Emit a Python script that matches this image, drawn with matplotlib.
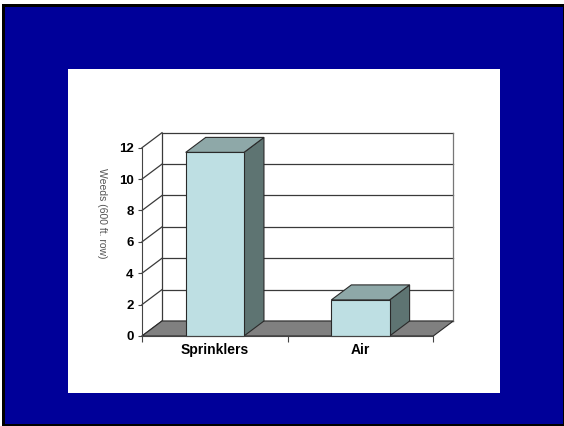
import matplotlib
matplotlib.use("Agg")
import matplotlib.pyplot as plt
from matplotlib.patches import Rectangle, Polygon

# ---- data ----
categories = ["Sprinklers", "Air"]
values = [11.7, 2.3]
y_ticks = [0, 2, 4, 6, 8, 10, 12]
y_label = "Weeds (600 ft. row)"

# ---- styles ----
NAVY = "#000099"
FRONT = "#BEDFE3"
TOP = "#8EA8A8"
SIDE = "#5E7472"
FLOOR = "#808080"
GRID = "#3a3a3a"
EDGE = "#2a2a2a"

W, H, DPI = 564, 426, 100
fig = plt.figure(figsize=(W / DPI, H / DPI), dpi=DPI, facecolor="white")

def fx(px):
    return px / W

def fy(py):
    return 1 - py / H

# frame: black border, navy slide, white panel
fig.patches.append(Rectangle((fx(2), 0), fx(562), fy(4), transform=fig.transFigure,
                             facecolor="black", edgecolor="none", zorder=-30))
fig.patches.append(Rectangle((fx(5), fy(424)), fx(558), fy(7) - fy(424),
                             transform=fig.transFigure, facecolor=NAVY,
                             edgecolor="none", zorder=-20))
fig.patches.append(Rectangle((fx(68), fy(393)), fx(432), fy(69) - fy(393),
                             transform=fig.transFigure, facecolor="white",
                             edgecolor="none", zorder=-10))

# front plane axes
left_px, right_px, bot_px, top_px = 142, 433.3, 336, 147.7
ax = fig.add_axes([fx(left_px), fy(bot_px), fx(right_px - left_px), fy(top_px) - fy(bot_px)])
ax.set_facecolor("none")
n = len(categories)
ax.set_xlim(0, n)
ax.set_ylim(0, y_ticks[-1])

# depth offset (pixels) converted to data units
depth_dx_px, depth_dy_px = 20, 15
dx = depth_dx_px / ((right_px - left_px) / n)
dy = depth_dy_px / ((bot_px - top_px) / y_ticks[-1])

ymax = y_ticks[-1]
# back wall gridlines and edges
for t in y_ticks:
    ax.plot([dx, n + dx], [t + dy, t + dy], color=GRID, lw=0.9, clip_on=False, zorder=1)
    ax.plot([0, dx], [t, t + dy], color=GRID, lw=0.9, clip_on=False, zorder=1)
ax.plot([dx, dx], [dy, ymax + dy], color=GRID, lw=0.9, clip_on=False, zorder=1)
ax.plot([n + dx, n + dx], [dy, ymax + dy], color="#777777", lw=0.9, clip_on=False, zorder=1)

# floor
floor = Polygon([[0, 0], [n, 0], [n + dx, dy], [dx, dy]], closed=True,
                facecolor=FLOOR, edgecolor=EDGE, lw=0.8, clip_on=False, zorder=2)
ax.add_patch(floor)

# bars
bw = 0.40
for i, v in enumerate(values):
    x0 = i + 0.5 - bw / 2
    x1 = i + 0.5 + bw / 2
    side = Polygon([[x1, 0], [x1 + dx, dy], [x1 + dx, v + dy], [x1, v]], closed=True,
                   facecolor=SIDE, edgecolor=EDGE, lw=0.8, clip_on=False, zorder=3)
    top = Polygon([[x0, v], [x1, v], [x1 + dx, v + dy], [x0 + dx, v + dy]], closed=True,
                  facecolor=TOP, edgecolor=EDGE, lw=0.8, clip_on=False, zorder=3)
    front = Rectangle((x0, 0), bw, v, facecolor=FRONT, edgecolor=EDGE, lw=0.8,
                      clip_on=False, zorder=4)
    ax.add_patch(side)
    ax.add_patch(top)
    ax.add_patch(front)

# axes styling
for s in ["top", "right"]:
    ax.spines[s].set_visible(False)
ax.spines["left"].set_color("#444444")
ax.spines["bottom"].set_color("#444444")
ax.spines["left"].set_linewidth(0.8)
ax.spines["bottom"].set_linewidth(0.8)
ax.spines["left"].set_zorder(5)
ax.spines["bottom"].set_zorder(5)

ax.set_yticks(y_ticks)
ax.set_yticklabels([str(t) for t in y_ticks], fontfamily="Liberation Sans",
                   fontweight="bold", fontsize=9.5)
ax.tick_params(axis="y", length=3, width=0.8, color="#444444", pad=3)

ax.set_xticks(range(n + 1))
ax.set_xticklabels([""] * (n + 1))
ax.set_xticks([i + 0.5 for i in range(n)], minor=True)
ax.set_xticklabels(categories, minor=True, fontfamily="Liberation Sans",
                   fontweight="bold", fontsize=10)
ax.tick_params(axis="x", which="major", length=4, width=0.8, color="#444444", direction="out")
ax.tick_params(axis="x", which="minor", length=0, pad=5)

fig.text(fx(102), fy(213), y_label, rotation=-90, ha="center", va="center",
         fontfamily="Liberation Sans", fontsize=7.5, color="#555555")

fig.savefig("out.png", dpi=DPI, facecolor=fig.get_facecolor())
